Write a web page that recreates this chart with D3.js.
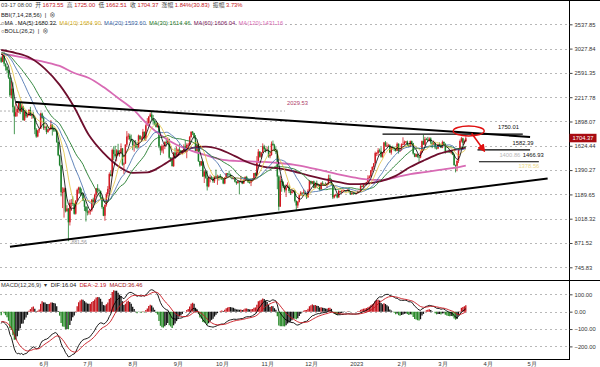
<!DOCTYPE html>
<html>
<head>
<meta charset="utf-8">
<script src="https://cdn.jsdelivr.net/npm/d3@7"></script>
<style>
body { margin: 0; background: #fff; }
svg { display: block; font-family: "Liberation Sans", "Noto Sans CJK SC", sans-serif; }
text { white-space: pre; }
</style>
</head>
<body>
<div id="chart"></div>
<script>
var width = 600,
    height = 367;

// daily candles, 2022-05-03 .. 2023-03-17 (open = previous close)
var firstOpen = 2857;
var closes = [
    2783,2940,2749,2695,2636,2518,2245,2343,2080,1961,2014,2056,2145,2023,2090,1914,2018,1961,1975,2043,1972,1979,1945,1803,1724,1792,1812,1997,1942,
    1823,1834,1775,1805,1806,1859,1813,1793,1789,1665,1529,1435,1206,1208,1236,1068,1087,995,1127,1127,1124,1051,1144,1225,1243,1199,1193,1144,1099,1067,
    1059,1067,1074,1150,1134,1187,1237,1222,1217,1168,1097,1038,1113,1192,1232,1355,1338,1582,1542,1520,1577,1538,1553,1598,1440,1450,1637,1724,1733,1696,1679,
    1632,1634,1617,1608,1734,1693,1700,1777,1703,1852,1880,1958,1985,1935,1903,1877,1832,1848,1616,1576,1620,1626,1666,1656,1696,1506,1490,1425,1555,1525,1553,
    1586,1577,1556,1577,1618,1561,1632,1636,1718,1778,1762,1715,1571,1636,1472,1432,1470,1335,1377,1323,1252,1327,1328,1316,1294,1336,1330,1336,1335,1328,
    1311,1276,1323,1362,1352,1351,1330,1315,1322,1291,1279,1294,1288,1297,1275,1306,1331,1310,1286,1283,1299,1314,1364,1344,1460,1565,1514,1556,1619,1590,1572,
    1579,1519,1531,1646,1630,1570,1568,1334,1100,1299,1287,1256,1221,1242,1252,1216,1200,1212,1218,1141,1108,1135,1183,1203,1199,1205,1194,1168,1218,1296,
    1275,1294,1241,1280,1259,1270,1231,1281,1264,1266,1264,1275,1321,1309,1267,1167,1185,1187,1167,1216,1212,1219,1219,1221,1218,1226,1212,1190,1201,1199,1196,
    1200,1214,1214,1256,1251,1270,1264,1288,1322,1335,1387,1418,1452,1550,1551,1578,1567,1514,1552,1659,1627,1628,1628,1556,1612,1603,1598,1573,1646,1567,1585,
    1641,1643,1666,1670,1631,1616,1673,1650,1546,1515,1540,1516,1507,1556,1674,1637,1695,1691,1680,1702,1660,1642,1649,1607,1596,1640,1633,1605,
    1665,1647,1569,1566,1565,1563,1564,1534,1436,1430,1475,1590,1675,1704,1656,1673.55,1704.37
];
var highs = [
    2880,2955,2960,2755,2705,2645,2520,2460,2440,2100,2140,2075,2150,2150,2120,2100,2030,2045,1995,2055,2085,2005,2015,1950,1820,1800,1815,2010,2010,
    1970,1845,1845,1810,1820,1915,1865,1830,1810,1790,1670,1535,1435,1245,1245,1240,1110,1090,1150,1155,1175,1125,1145,1235,1250,1250,1235,1205,1145,1105,
    1100,1075,1080,1155,1165,1195,1240,1270,1235,1220,1170,1100,1115,1205,1255,1370,1385,1595,1620,1625,1590,1645,1580,1650,1600,1460,1640,1785,1760,1755,1745,
    1690,1680,1685,1665,1745,1735,1725,1810,1780,1865,1940,1965,2010,2029.53,1980,1920,1905,1880,1848,1625,1640,1630,1670,1705,1715,1700,1510,1510,1560,1605,1615,
    1596,1645,1580,1580,1640,1685,1650,1655,1730,1780,1785,1765,1740,1650,1650,1475,1475,1470,1390,1385,1385,1335,1350,1340,1330,1340,1395,1350,1345,1355,
    1333,1318,1330,1365,1365,1385,1360,1335,1325,1330,1295,1300,1300,1340,1300,1310,1335,1340,1312,1310,1305,1320,1365,1370,1520,1590,1570,1560,1650,1635,1605,
    1615,1625,1555,1670,1680,1645,1610,1585,1345,1340,1315,1295,1265,1270,1285,1265,1225,1225,1225,1225,1145,1140,1190,1215,1205,1230,1220,1195,1230,1305,
    1300,1295,1300,1285,1300,1275,1272,1285,1295,1275,1285,1280,1350,1350,1315,1270,1190,1195,1195,1225,1218,1222,1230,1225,1222,1228,1235,1215,1205,1202,1205,
    1202,1220,1220,1270,1260,1275,1272,1290,1345,1345,1390,1425,1455,1565,1560,1600,1595,1610,1560,1665,1675,1660,1645,1640,1620,1625,1615,1600,1660,1650,1600,
    1650,1715,1680,1675,1680,1640,1680,1680,1655,1550,1545,1545,1525,1570,1680,1742,1720,1710,1720,1715,1715,1660,1680,1660,1610,1645,1660,1645,
    1680,1670,1648,1575,1585,1575,1580,1565,1545,1440,1480,1600,1690,1720,1710,1690,1725
];
var lows = [
    2762,2775,2705,2630,2590,2495,2220,2200,2010,1750,1955,1960,2005,1990,2015,1910,1905,1940,1945,1965,1965,1930,1935,1750,1710,1715,1765,1810,1930,
    1800,1795,1750,1765,1790,1800,1735,1775,1780,1655,1520,1425,1175,1090,1025,1060,1065,881.56,975,1070,1105,1045,1045,1140,1195,1190,1180,1140,1070,1000,
    1040,1045,1045,1065,1090,1125,1170,1205,1205,1155,1085,1035,1005,1100,1175,1210,1335,1335,1480,1505,1470,1525,1515,1545,1430,1355,1445,1615,1690,1680,1670,
    1580,1565,1600,1590,1605,1690,1680,1695,1685,1675,1850,1860,1955,1920,1860,1855,1825,1825,1600,1530,1555,1545,1590,1625,1655,1495,1465,1425,1420,1505,1520,
    1520,1555,1545,1540,1560,1555,1500,1605,1630,1710,1740,1695,1560,1565,1465,1420,1430,1330,1280,1315,1220,1245,1285,1310,1280,1280,1320,1265,1300,1310,
    1305,1270,1270,1320,1325,1345,1320,1310,1310,1285,1265,1275,1190,1285,1270,1275,1300,1300,1280,1275,1255,1295,1305,1335,1340,1455,1505,1500,1550,1575,1555,
    1570,1505,1500,1525,1625,1570,1540,1230,1073,1100,1210,1240,1205,1170,1240,1200,1185,1195,1205,1130,1073,1090,1130,1180,1180,1195,1190,1155,1165,1215,
    1265,1270,1238,1240,1255,1250,1220,1225,1260,1260,1260,1240,1265,1300,1260,1155,1160,1175,1160,1165,1200,1195,1215,1215,1210,1212,1205,1185,1190,1185,1192,
    1192,1195,1205,1210,1245,1240,1260,1262,1285,1315,1325,1370,1395,1450,1520,1525,1555,1505,1505,1545,1615,1610,1615,1550,1535,1585,1570,1565,1570,1545,1565,
    1575,1635,1630,1655,1620,1610,1610,1635,1535,1510,1510,1505,1465,1500,1550,1635,1625,1685,1675,1670,1640,1600,1635,1590,1585,1590,1615,1600,
    1600,1630,1545,1560,1560,1555,1540,1530,1430,1370,1380,1455,1575,1660,1630,1640,1662.51
];

// long averages every 10 days (last point = day 318)
var ma60 = [3001,2943,2851,2660,2400,2080,1740,1552,1428,1366,1370,1430,1520,1600,1615,1585,
            1520,1455,1420,1405,1380,1345,1315,1290,1270,1275,1296,1340,1418,1483,1544,1582,1606.04];
var ma120 = [2925,2887,2831,2777,2709,2590,2508,2367,2207,2057,1867,1730,1635,1575,1530,1490,
             1475,1470,1465,1455,1440,1415,1385,1355,1330,1310,1305,1328,1355,1373,1392,1410,1431.16];
var preLevel = 2950;            // price level before the first candle
var macdSeed = [2880, 2945, -55]; // ema12, ema26, dea at the left edge

var yTicks = [3537.85, 3027.84, 2591.35, 2217.78, 1898.07, 1624.44, 1390.27, 1189.65, 1018.32, 871.52, 745.83];
var macdTicks = [100, 0, -100, -200];
var monthDays = [29, 59, 90, 121, 151, 182, 212, 243, 274, 302, 333, 363];
var monthLabels = ["6月", "7月", "8月", "9月", "10月", "11月", "12月", "2023", "2月", "3月", "4月", "5月"];

var maNames = ["MA(5)", "MA(10)", "MA(20)", "MA(30)", "MA(60)", "MA(120)"];
var maLast = ["1680.32", "1684.90", "1593.60", "1614.46", "1606.04", "1431.16"];
var maColors = ["#000000", "#e2c23c", "#3a66a8", "#1f7a2a", "#6e0f2e", "#d86ab4"];
var maTextColors = ["#111111", "#d8b020", "#3a66a8", "#1f7a2a", "#7a2060", "#d86ab4"];

// drawn lines: [day, price, day, price]
var trendLines = [[10, 2151, 362, 1719], [6, 851, 374, 1318]];
var levels = [
    { p: 1750.01, from: 261, to: 357, label: "1750.01", at: 340 },
    { p: 1582.39, from: 326, to: 362, label: "1582.39", at: 350 },
    { p: 1466.93, from: 327, to: 368, label: "1466.93", at: 357 }
];

var lastClose = 1704.37, highMark = 2029.53, lowMark = 881.56;

function day(i) { return new Date(Date.UTC(2022, 4, 3 + i)); }

var svg = d3.select("#chart").append("svg")
    .attr("width", width)
    .attr("height", height);

var x = d3.scaleUtc()
    .domain([day(0), day(closes.length - 1)])
    .range([1.2, 465.8]);
var y = d3.scaleLog()
    .domain([745.83, 3537.85])
    .range([267.3, 24.3]);
var ym = d3.scaleLinear()
    .domain([-200, 100])
    .range([346.4, 294.3]);

var axisX = 569.5;

// frame
svg.append("line").attr("x1", 0).attr("x2", width).attr("y1", 0.5).attr("y2", 0.5).attr("stroke", "#000");
svg.append("line").attr("x1", 0).attr("x2", width).attr("y1", 280.5).attr("y2", 280.5).attr("stroke", "#000");
svg.append("line").attr("x1", 0).attr("x2", axisX).attr("y1", 359.5).attr("y2", 359.5).attr("stroke", "#000");
svg.append("line").attr("x1", axisX).attr("x2", axisX).attr("y1", 0).attr("y2", 360).attr("stroke", "#000");

// grid
svg.append("g").selectAll("line").data(yTicks).enter().append("line")
    .attr("x1", 0).attr("x2", axisX)
    .attr("y1", function (d) { return Math.round(y(d)) + 0.5; })
    .attr("y2", function (d) { return Math.round(y(d)) + 0.5; })
    .attr("stroke", "#b8b8b8").attr("stroke-dasharray", "2,3");
svg.append("g").selectAll("line").data(macdTicks).enter().append("line")
    .attr("x1", 0).attr("x2", axisX)
    .attr("y1", function (d) { return Math.round(ym(d)) + 0.5; })
    .attr("y2", function (d) { return Math.round(ym(d)) + 0.5; })
    .attr("stroke", "#b8b8b8").attr("stroke-dasharray", "2,3");

// high level marker
svg.append("line")
    .attr("x1", 0).attr("x2", 285)
    .attr("y1", y(highMark)).attr("y2", y(highMark))
    .attr("stroke", "#b0b0b0").attr("stroke-dasharray", "2,2");
svg.append("text").attr("x", 287).attr("y", y(highMark) - 6)
    .attr("font-size", 5.8).attr("fill", "#b0406a").text(highMark.toFixed(2));

// right axes
var yAxis = svg.append("g").attr("transform", "translate(" + axisX + ",0)")
    .call(d3.axisRight(y).tickValues(yTicks).tickFormat(d3.format(".2f")).tickSize(3).tickPadding(2));
var mAxis = svg.append("g").attr("transform", "translate(" + axisX + ",0)")
    .call(d3.axisRight(ym).tickValues(macdTicks).tickFormat(d3.format(".2f")).tickSize(3).tickPadding(2));
[yAxis, mAxis].forEach(function (a) {
    a.select(".domain").remove();
    a.selectAll("line").attr("stroke", "#444");
    a.selectAll("text").attr("font-size", 5.8).attr("fill", "#333").attr("font-family", null);
});

// month axis
var xAxis = svg.append("g").attr("transform", "translate(0,359)")
    .call(d3.axisBottom(x).tickValues(monthDays.map(day))
        .tickFormat(function (d, i) { return monthLabels[i]; })
        .tickSize(0).tickPadding(2.5));
xAxis.select(".domain").remove();
xAxis.selectAll("text").attr("font-size", 5.8).attr("fill", "#333").attr("font-family", null);

// main panel
svg.append("clipPath").attr("id", "clipMain").append("rect")
    .attr("x", 0).attr("y", 1).attr("width", axisX).attr("height", 279);
var main = svg.append("g").attr("clip-path", "url(#clipMain)");

var candles = closes.map(function (c, i) {
    return { i: i, o: i ? closes[i - 1] : firstOpen, c: c, h: highs[i], l: lows[i] };
});
var upColor = "#d21a22", downColor = "#1b7f2a";
function cColor(d) { return d.c >= d.o ? upColor : downColor; }

var gC = main.append("g");
gC.selectAll("line").data(candles).enter().append("line")
    .attr("x1", function (d) { return x(day(d.i)); })
    .attr("x2", function (d) { return x(day(d.i)); })
    .attr("y1", function (d) { return y(d.h); })
    .attr("y2", function (d) { return y(d.l); })
    .attr("stroke", cColor).attr("stroke-width", 0.8);
gC.selectAll("rect").data(candles).enter().append("rect")
    .attr("x", function (d) { return x(day(d.i)) - 0.75; })
    .attr("width", 1.5)
    .attr("y", function (d) { return y(Math.max(d.o, d.c)); })
    .attr("height", function (d) { return Math.max(0.9, y(Math.min(d.o, d.c)) - y(Math.max(d.o, d.c))); })
    .attr("fill", cColor);

// moving averages
function movingAvg(n) {
    return closes.map(function (c, i) {
        var s = 0;
        for (var k = i - n + 1; k <= i; k++) s += k < 0 ? preLevel : closes[k];
        return [i, s / n];
    });
}
function sampled(arr) {
    return arr.map(function (v, k) { return [k === arr.length - 1 ? closes.length - 1 : k * 10, v]; });
}
var maLine = d3.line()
    .x(function (d) { return x(day(d[0])); })
    .y(function (d) { return y(d[1]); });

var maSeries = [
    { data: sampled(ma120), color: maColors[5], w: 1.8, curve: d3.curveMonotoneX },
    { data: sampled(ma60), color: maColors[4], w: 1.8, curve: d3.curveMonotoneX },
    { data: movingAvg(30), color: maColors[3], w: 0.9, curve: d3.curveLinear },
    { data: movingAvg(20), color: maColors[2], w: 0.8, curve: d3.curveLinear },
    { data: movingAvg(10), color: maColors[1], w: 0.8, curve: d3.curveLinear },
    { data: movingAvg(5), color: maColors[0], w: 0.8, curve: d3.curveLinear }
];
main.append("g").selectAll("path").data(maSeries).enter().append("path")
    .attr("fill", "none")
    .attr("stroke", function (d) { return d.color; })
    .attr("stroke-width", function (d) { return d.w; })
    .attr("d", function (d) { return maLine.curve(d.curve)(d.data); });

// drawn trend lines and levels
main.append("g").selectAll("line").data(trendLines).enter().append("line")
    .attr("x1", function (d) { return x(day(d[0])); })
    .attr("y1", function (d) { return y(d[1]); })
    .attr("x2", function (d) { return x(day(d[2])); })
    .attr("y2", function (d) { return y(d[3]); })
    .attr("stroke", "#000").attr("stroke-width", 2);

var gL = main.append("g");
gL.selectAll("line").data(levels).enter().append("line")
    .attr("x1", function (d) { return x(day(d.from)); })
    .attr("x2", function (d) { return x(day(d.to)); })
    .attr("y1", function (d) { return y(d.p); })
    .attr("y2", function (d) { return y(d.p); })
    .attr("stroke", "#000").attr("stroke-width", 1.1);
gL.selectAll("text").data(levels).enter().append("text")
    .attr("x", function (d) { return x(day(d.at)); })
    .attr("y", function (d) { return y(d.p) - 5; })
    .attr("font-size", 5.8).attr("fill", "#111")
    .text(function (d) { return d.label; });
gL.append("text").attr("x", x(day(341))).attr("y", y(1466.93) - 5)
    .attr("font-size", 5.8).attr("fill", "#b8b8b8").text("1400.86");
gL.append("text").attr("x", x(day(354))).attr("y", y(1378.56) - 3)
    .attr("font-size", 5.8).attr("fill", "#ecd98a").text("1378.56");

// low marker
main.append("text").attr("x", x(day(46)) + 3).attr("y", y(lowMark) + 3)
    .attr("font-size", 5).attr("fill", "#9a9a9a").text(lowMark.toFixed(2));

// red ellipse + arrow
svg.append("defs").append("marker").attr("id", "arr")
    .attr("viewBox", "0 0 10 10").attr("refX", 6).attr("refY", 5)
    .attr("markerWidth", 5).attr("markerHeight", 5).attr("orient", "auto")
    .append("path").attr("d", "M0,0L10,5L0,10z").attr("fill", "#e01010");
main.append("ellipse")
    .attr("cx", x(day(320))).attr("cy", y(1786))
    .attr("rx", 15.5).attr("ry", 5)
    .attr("fill", "none").attr("stroke", "#e01010").attr("stroke-width", 1.4);
main.append("line")
    .attr("x1", x(day(322))).attr("y1", y(1760))
    .attr("x2", x(day(330))).attr("y2", y(1585))
    .attr("stroke", "#e01010").attr("stroke-width", 1.6)
    .attr("marker-end", "url(#arr)");

// last price tag
svg.append("rect").attr("x", axisX).attr("y", y(lastClose) - 4.5)
    .attr("width", 27).attr("height", 8.5).attr("fill", "#a80c12");
svg.append("text").attr("x", axisX + 3).attr("y", y(lastClose) + 2)
    .attr("font-size", 5.8).attr("fill", "#fff").text(lastClose.toFixed(2));

// MACD
var e12 = macdSeed[0], e26 = macdSeed[1], dea = macdSeed[2];
var macd = closes.map(function (c, i) {
    e12 = (2 * c + 11 * e12) / 13;
    e26 = (2 * c + 25 * e26) / 27;
    var dif = e12 - e26;
    dea = (2 * dif + 8 * dea) / 10;
    return { i: i, dif: dif, dea: dea, bar: 2 * (dif - dea) };
});
var gM = svg.append("g");
gM.selectAll("line").data(macd).enter().append("line")
    .attr("x1", function (d) { return x(day(d.i)); })
    .attr("x2", function (d) { return x(day(d.i)); })
    .attr("y1", ym(0))
    .attr("y2", function (d) { return ym(d.bar); })
    .attr("stroke-width", 1.3)
    .attr("stroke", function (d, i) {
        var prev = i ? macd[i - 1].bar : d.bar;
        if (d.bar >= 0) return d.bar >= prev ? "#c4141c" : "#111";
        return d.bar <= prev ? "#2a8a2a" : "#111";
    });
var mLine = d3.line().x(function (d) { return x(day(d.i)); });
gM.append("path").datum(macd).attr("fill", "none").attr("stroke", "#000").attr("stroke-width", 0.9)
    .attr("d", mLine.y(function (d) { return ym(d.dif); }));
gM.append("path").datum(macd).attr("fill", "none").attr("stroke", "#c8141c").attr("stroke-width", 0.9)
    .attr("d", mLine.y(function (d) { return ym(d.dea); }));

// header texts
var h1 = svg.append("text").attr("x", 1).attr("y", 7).attr("font-size", 5.8);
[["03-17 08:00  开 ", "#444"], ["1673.55", "#c4141c"], ["  高 ", "#444"], ["1725.00", "#c4141c"],
 ["  低 ", "#444"], ["1662.51", "#c4141c"], ["  收 ", "#444"], ["1704.37", "#c4141c"],
 ["  涨幅 ", "#444"], ["1.84%(30.83)", "#c4141c"], ["  振幅 ", "#444"], ["3.73%", "#c4141c"]]
    .forEach(function (s) { h1.append("tspan").attr("fill", s[1]).text(s[0]); });

svg.append("text").attr("x", 1).attr("y", 16.5).attr("font-size", 5.8).attr("fill", "#222")
    .text("BBI(7,14,28,56)  |  ⊗");

var h3 = svg.append("text").attr("x", 1).attr("y", 25).attr("font-size", 5.8);
h3.append("tspan").attr("fill", "#222").text("○MA   ");
maNames.forEach(function (n, i) {
    h3.append("tspan").attr("fill", maTextColors[i]).text(n + ":" + maLast[i] + "  ");
});
h3.append("tspan").attr("fill", "#888").text("  .  .");

svg.append("text").attr("x", 1).attr("y", 33).attr("font-size", 5.8).attr("fill", "#222")
    .text("○BOLL(26,2)  |  ⊗");

var h5 = svg.append("text").attr("x", 1).attr("y", 286.5).attr("font-size", 5.8);
[["MACD(12,26,9)  ▾  ", "#333"], ["DIF:16.04  ", "#111"], ["DEA:-2.19  ", "#c4141c"], ["MACD:36.46", "#a01018"]]
    .forEach(function (s) { h5.append("tspan").attr("fill", s[1]).text(s[0]); });
</script>
</body>
</html>
